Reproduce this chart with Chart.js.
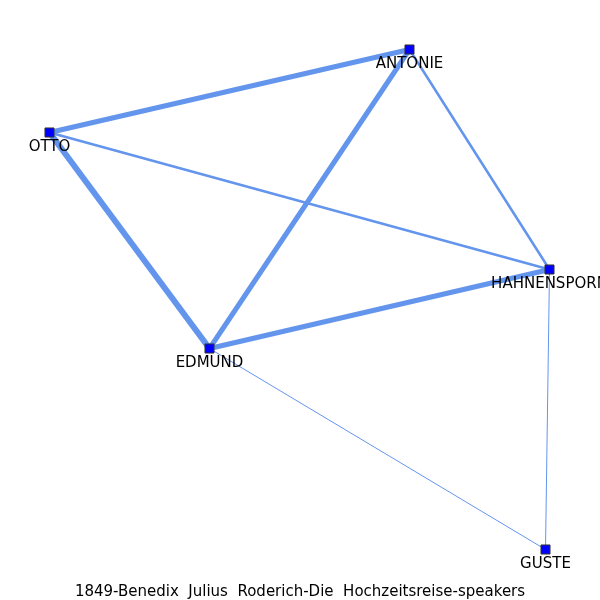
<!DOCTYPE html>
<html>
<head>
<meta charset="utf-8">
<script src="https://cdn.jsdelivr.net/npm/chart.js@4"></script>
<style>
  html, body { margin: 0; padding: 0; background: #fff; }
  #wrap { width: 600px; height: 600px; }
</style>
</head>
<body>
<div id="wrap"><canvas id="chart" width="600" height="600"></canvas></div>
<script>
// speakers and their layout position
const nodes = ['ANTONIE', 'OTTO', 'HAHNENSPORN', 'EDMUND', 'GUSTE'];
const nodeX = [409.5, 49.5, 549.5, 209.5, 545.5];
const nodeY = [49.5, 132.5, 269.5, 348.5, 549.5];

// edges between speakers and their weight
const edgeFrom = ['OTTO', 'OTTO', 'ANTONIE', 'EDMUND', 'OTTO', 'ANTONIE', 'EDMUND', 'HAHNENSPORN'];
const edgeTo = ['EDMUND', 'ANTONIE', 'EDMUND', 'HAHNENSPORN', 'HAHNENSPORN', 'HAHNENSPORN', 'GUSTE', 'GUSTE'];
const edgeWeight = [6, 5, 5, 5, 2.5, 2.5, 1, 1];

const title = '1849-Benedix  Julius  Roderich-Die  Hochzeitsreise-speakers';

const pos = (name) => {
    const i = nodes.indexOf(name);
    return { x: nodeX[i], y: nodeY[i] };
};

const edgeSets = edgeFrom.map((from, i) => ({
    type: 'line',
    data: [pos(from), pos(edgeTo[i])],
    borderColor: '#6495ED',
    borderWidth: edgeWeight[i],
    pointRadius: 0,
    fill: false,
    order: 1
}));

const nodeSet = {
    type: 'scatter',
    data: nodes.map((n, i) => ({ x: nodeX[i], y: nodeY[i] })),
    pointStyle: 'rect',
    pointRadius: 6.4,
    backgroundColor: '#0000ff',
    borderColor: '#333333',
    borderWidth: 1,
    order: 0
};

const labelPlugin = {
    id: 'nodeLabels',
    afterDraw(chart) {
        const { ctx, scales } = chart;
        ctx.save();
        ctx.fillStyle = '#000';
        ctx.font = '15px "DejaVu Sans"';
        ctx.textAlign = 'center';
        ctx.textBaseline = 'middle';
        nodes.forEach((n, i) => {
            const px = scales.x.getPixelForValue(nodeX[i]);
            const py = scales.y.getPixelForValue(nodeY[i]);
            ctx.fillText(n, px, py + 14.5);
        });
        ctx.fillText(title, 300, 592);
        ctx.restore();
    }
};

new Chart(document.getElementById('chart'), {
    data: { datasets: [...edgeSets, nodeSet] },
    options: {
        responsive: false,
        animation: false,
        devicePixelRatio: 1,
        layout: { padding: 0, autoPadding: false },
        scales: {
            x: { type: 'linear', min: 0, max: 600, display: false },
            y: { type: 'linear', min: 0, max: 600, reverse: true, display: false }
        },
        plugins: {
            legend: { display: false },
            tooltip: { enabled: false }
        }
    },
    plugins: [labelPlugin]
});
</script>
</body>
</html>
